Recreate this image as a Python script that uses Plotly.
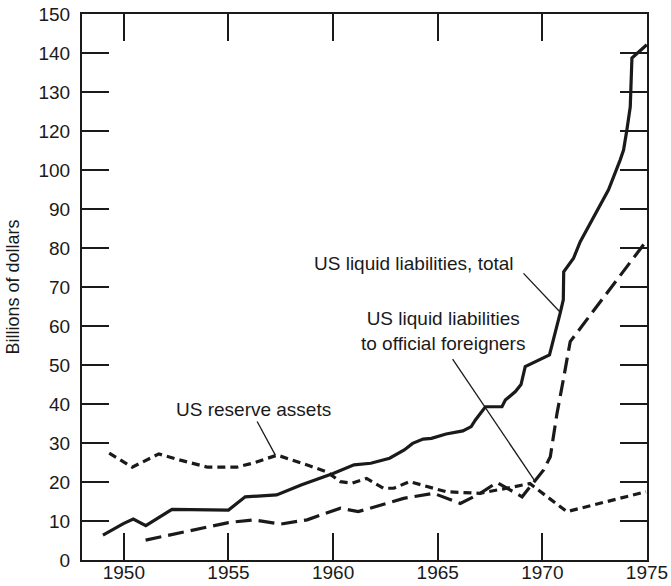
import plotly.graph_objects as go

# US liquid liabilities, total (billions of dollars, axis units)
total_years = [1949.0, 1950.0, 1950.45, 1951.05, 1952.3, 1955.0, 1955.8, 1957.3, 1958.5,
               1960.0, 1961.0, 1961.8, 1962.7, 1963.4, 1963.8, 1964.3, 1964.7, 1965.4,
               1966.2, 1966.6, 1966.8, 1967.28, 1968.07, 1968.23, 1968.71, 1968.98,
               1969.18, 1970.34, 1970.85, 1971.0, 1971.02, 1971.49, 1971.81, 1972.45,
               1973.16, 1973.72, 1973.88, 1974.04, 1974.2, 1974.28, 1974.99]
total_values = [6.4, 9.4, 10.5, 8.8, 13.0, 12.8, 16.2, 16.7, 19.3,
                22.2, 24.4, 24.8, 26.1, 28.2, 29.9, 31.0, 31.2, 32.3,
                33.1, 34.2, 35.9, 39.3, 39.3, 41.0, 43.2, 45.0,
                49.6, 52.6, 63.3, 66.7, 73.9, 77.4, 81.6, 88.0,
                94.9, 102.6, 105.1, 110.3, 116.2, 128.7, 132.1]

# US liquid liabilities to official foreigners
official_years = [1951.04, 1955.0, 1956.2, 1957.48, 1958.76, 1960.35, 1961.2, 1963.37,
                  1964.8, 1966.08, 1967.03, 1967.83, 1969.03, 1969.66, 1970.06, 1970.38,
                  1970.7, 1971.0, 1971.33, 1974.9]
official_values = [5.1, 9.6, 10.3, 9.2, 10.3, 13.3, 12.4, 15.8,
                   17.1, 14.5, 17.1, 19.9, 16.2, 20.3, 23.1, 26.5,
                   37.6, 46.2, 56.0, 81.3]

# US reserve assets
reserve_years = [1949.3, 1950.4, 1951.67, 1952.7, 1954.0, 1955.4, 1956.2, 1957.33, 1958.9,
                 1959.7, 1960.35, 1960.9, 1961.6, 1962.4, 1962.9, 1963.65, 1965.4, 1967.0,
                 1968.3, 1969.4, 1971.17, 1974.95]
reserve_values = [27.4, 23.8, 27.2, 25.6, 23.8, 23.8, 24.9, 26.9, 24.1,
                  22.6, 20.1, 19.7, 20.9, 18.4, 18.4, 20.1, 17.5, 17.1,
                  18.4, 19.6, 12.4, 17.5]

# tick labels as printed on the axes
x_tick_values = [1950, 1955, 1960, 1965, 1970, 1975]
y_tick_values = [0, 10, 20, 30, 40, 50, 60, 70, 80, 90, 100, 110, 120, 130, 140]
y_tick_labels = ["0", "10", "20", "30", "40", "50", "60", "70", "80", "90",
                 "100", "120", "130", "140", "150"]

# series labels: (text, x, y) and leader lines (x0, y0, x1, y1)
labels = [
    ("US liquid liabilities, total", 1963.88, 75.9),
    ("US liquid liabilities<br>to official foreigners", 1965.27, 58.6),
    ("US reserve assets", 1956.21, 38.6),
]
leaders = [
    (1969.10, 73.5, 1970.82, 63.7),
    (1965.71, 51.5, 1969.66, 20.1),
    (1956.37, 35.5, 1957.24, 26.9),
]

FONT = "Liberation Sans, Arial, sans-serif"
INK = "#1a1a1a"

fig = go.Figure()
fig.add_trace(go.Scatter(x=total_years, y=total_values, mode="lines",
                         line=dict(color=INK, width=3.2), hoverinfo="skip"))
fig.add_trace(go.Scatter(x=official_years, y=official_values, mode="lines",
                         line=dict(color=INK, width=3.2, dash="16px,7px"), hoverinfo="skip"))
fig.add_trace(go.Scatter(x=reserve_years, y=reserve_values, mode="lines",
                         line=dict(color=INK, width=3.2, dash="8px,5px"), hoverinfo="skip"))

for text, lx, ly in labels:
    fig.add_annotation(x=lx, y=ly, xref="x", yref="y", text=text, showarrow=False,
                       xanchor="center", yanchor="middle", align="center",
                       font=dict(family=FONT, size=19, color=INK))

for x0, y0, x1, y1 in leaders:
    fig.add_shape(type="line", xref="x", yref="y", x0=x0, y0=y0, x1=x1, y1=y1,
                  line=dict(color=INK, width=1.3))

axis_common = dict(
    showline=True, linecolor=INK, linewidth=2, mirror="ticks",
    ticks="inside", ticklen=27, tickwidth=2, tickcolor=INK,
    showgrid=False, zeroline=False, automargin=False,
    tickfont=dict(family=FONT, size=19, color=INK),
)

fig.update_layout(
    width=671, height=586,
    margin=dict(l=82, r=24, t=14, b=26),
    paper_bgcolor="white", plot_bgcolor="white",
    showlegend=False,
    xaxis=dict(range=[1948, 1975], tickvals=x_tick_values, ticklabelstandoff=-6,
               **axis_common),
    yaxis=dict(range=[0, 140], tickvals=y_tick_values, ticktext=y_tick_labels,
               ticklabelstandoff=6,
               title=dict(text="Billions of dollars", standoff=14,
                          font=dict(family=FONT, size=18, color=INK)),
               **axis_common),
)

fig.write_html("out.html")
